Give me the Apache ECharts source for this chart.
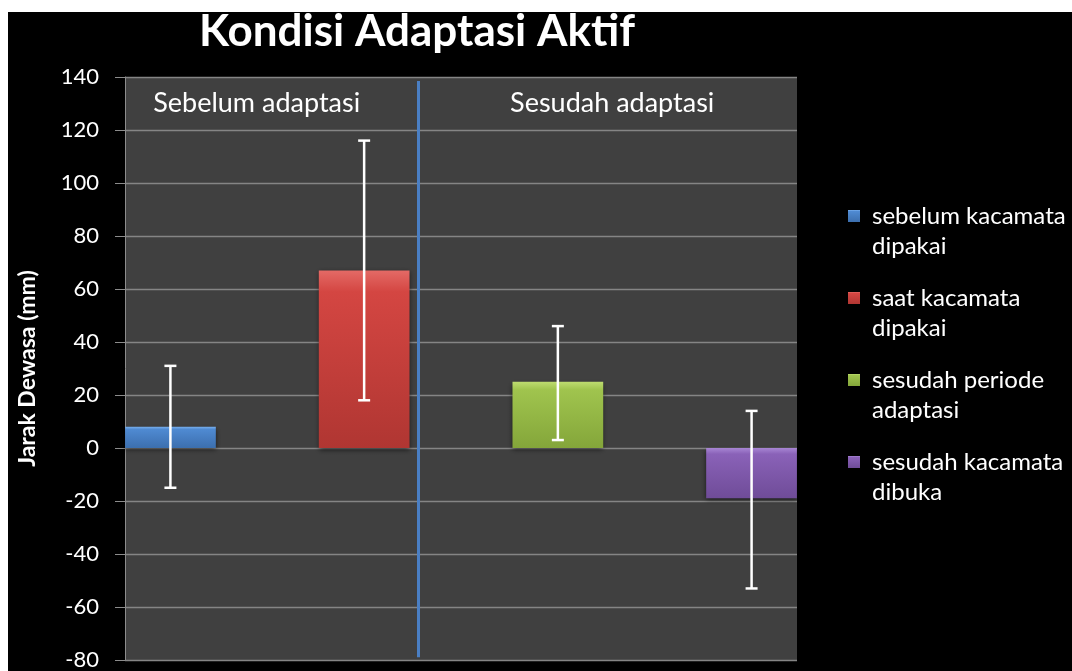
<!DOCTYPE html>
<html>
<head>
<meta charset="utf-8">
<script src="https://cdn.jsdelivr.net/npm/echarts@6/dist/echarts.min.js"></script>
<style>
html,body{margin:0;padding:0;background:#ffffff;width:1072px;height:671px;overflow:hidden;}
#chart{position:absolute;left:8px;top:12px;width:1064px;height:659px;background:#000000;}
</style>
</head>
<body>
<div id="chart"></div>
<script>
// ---- data ----
const categories = ['Jarak Dewasa'];
const seriesNames = ['sebelum kacamata\ndipakai', 'saat kacamata\ndipakai', 'sesudah periode\nadaptasi', 'sesudah kacamata\ndibuka'];
const means = [8, 67, 25, -19];
const errLow = [-15, 18, 3, -53];
const errHigh = [31, 116, 46, 14];
const yTicks = [-80, -60, -40, -20, 0, 20, 40, 60, 80, 100, 120, 140];
const sectionLabels = ['Sebelum adaptasi', 'Sesudah adaptasi'];

const FONT = 'Lato, "Open Sans", sans-serif';
const palettes = [
  ['#79b0ee', '#4f8ad2', '#3c6fae'],
  ['#e46a66', '#d44642', '#b03632'],
  ['#bedc70', '#a0c44e', '#84a63a'],
  ['#a886d4', '#8a62b8', '#6f4c98']
];

const BAR_W_PCT = 91 / 674;
const BAR_GAP = 103.3 / 91;

const barSeries = seriesNames.map((name, i) => ({
  name: name,
  type: 'bar',
  barWidth: (BAR_W_PCT * 100).toFixed(2) + '%',
  barGap: (BAR_GAP * 100).toFixed(1) + '%',
  data: [means[i]],
  itemStyle: {
    color: new echarts.graphic.LinearGradient(0, 0, 0, 1, [
      {offset: 0, color: palettes[i][0]},
      {offset: 0.12, color: palettes[i][1]},
      {offset: 1, color: palettes[i][2]}
    ]),
    shadowColor: 'rgba(0,0,0,0.6)',
    shadowBlur: 5,
    shadowOffsetY: 2
  },
  z: 2
}));

const errData = means.map((m, i) => [i, errLow[i], errHigh[i]]);

const errSeries = {
  type: 'custom',
  name: 'err',
  z: 5,
  data: errData,
  encode: {y: [1, 2]},
  renderItem: function (params, api) {
    const idx = api.value(0);
    const band = api.size([1, 0])[0];
    const center = api.coord([0, 0])[0];
    const step = band * BAR_W_PCT * (1 + BAR_GAP);
    const cx = center + (idx - (means.length - 1) / 2) * step;
    const yl = api.coord([0, api.value(1)])[1];
    const yh = api.coord([0, api.value(2)])[1];
    const cap = 6;
    const style = {stroke: '#ffffff', lineWidth: 2.5, fill: null};
    return {
      type: 'group',
      children: [
        {type: 'line', shape: {x1: cx, y1: yl, x2: cx, y2: yh}, style: style},
        {type: 'line', shape: {x1: cx - cap, y1: yl, x2: cx + cap, y2: yl}, style: style},
        {type: 'line', shape: {x1: cx - cap, y1: yh, x2: cx + cap, y2: yh}, style: style}
      ]
    };
  }
};

const chart = echarts.init(document.getElementById('chart'));
chart.setOption({
  backgroundColor: '#000000',
  animation: false,
  title: {
    text: 'Kondisi Adaptasi Aktif',
    left: 404,
    textAlign: 'center',
    top: -7,
    textStyle: {color: '#ffffff', fontFamily: FONT, fontWeight: 'bold', fontSize: 44}
  },
  legend: {
    data: seriesNames,
    orient: 'vertical',
    left: 835,
    top: 154,
    itemWidth: 12,
    itemHeight: 12,
    itemGap: -8,
    icon: 'rect',
    formatter: n => '\n' + n,
    textStyle: {color: '#ffffff', fontFamily: FONT, fontSize: 24, lineHeight: 30, padding: [0, 0, 0, 7]}
  },
  grid: {left: 115, top: 65, width: 674, height: 588, backgroundColor: '#404040', show: true, borderWidth: 0},
  xAxis: [{
    type: 'category',
    data: categories,
    axisLine: {show: false},
    axisTick: {show: false},
    axisLabel: {show: false}
  }, {
    type: 'value', min: 0, max: 1, show: false
  }],
  yAxis: {
    type: 'value',
    min: yTicks[0],
    max: yTicks[yTicks.length - 1],
    interval: 20,
    name: 'Jarak Dewasa (mm)',
    nameLocation: 'middle',
    nameGap: 86,
    nameTextStyle: {color: '#ffffff', fontFamily: FONT, fontWeight: 'bold', fontSize: 23},
    axisLine: {show: true, lineStyle: {color: '#8c8c8c', width: 1}},
    axisTick: {show: true, length: 10, lineStyle: {color: '#8c8c8c'}},
    axisLabel: {color: '#ffffff', fontFamily: FONT, fontSize: 22, margin: 26},
    splitLine: {lineStyle: {color: '#858585', width: 1.3}}
  },
  series: barSeries.concat([errSeries, {
    type: 'line',
    xAxisIndex: 1,
    data: [],
    markLine: {
      silent: true,
      symbol: 'none',
      label: {show: false},
      lineStyle: {color: '#4a7fc4', width: 3, type: 'solid'},
      data: [[{coord: [0.437, 138.5]}, {coord: [0.437, -79]}]]
    },
    markPoint: {
      symbol: 'rect',
      symbolSize: 1,
      itemStyle: {color: 'transparent'},
      label: {show: true, color: '#ffffff', fontFamily: FONT, fontSize: 27, position: 'inside'},
      data: [
        {coord: [0.196, 130], value: sectionLabels[0], label: {formatter: sectionLabels[0]}},
        {coord: [0.725, 130], value: sectionLabels[1], label: {formatter: sectionLabels[1]}}
      ]
    }
  }])
});
</script>
</body>
</html>
